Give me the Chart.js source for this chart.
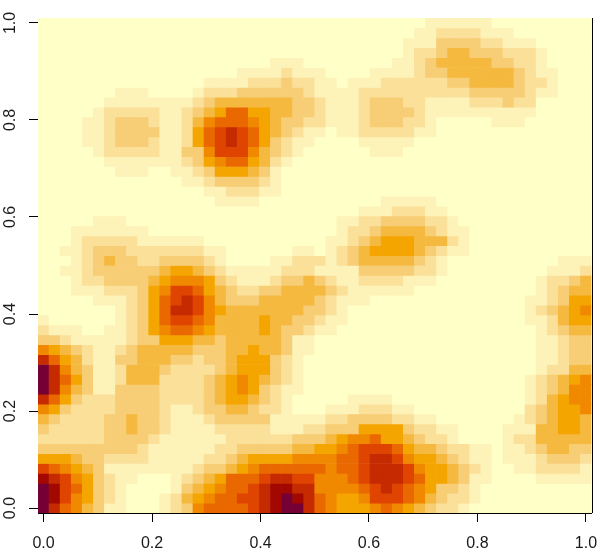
<!DOCTYPE html>
<html>
<head>
<meta charset="utf-8">
<script src="https://cdn.jsdelivr.net/npm/chart.js@4"></script>
<style>
html, body { margin: 0; padding: 0; background: #fff; }
#wrap { width: 602px; height: 552px; }
</style>
</head>
<body>
<div id="wrap"><canvas id="myChart" width="602" height="552"></canvas></div>
<script>
const xTicks = [0, 0.2, 0.4, 0.6, 0.8, 1];
const yTicks = [0, 0.2, 0.4, 0.6, 0.8, 1];

// colour of each z level, lightest to darkest
const levelColors = ["#FFFFC8", "#FDF2B8", "#FBE09A", "#F7CD76", "#F5B93F", "#F5A500",
                     "#F18900", "#EA6800", "#DF4400", "#C62A00", "#A20800", "#750035"];

// z level per cell. first row is y = 1, last is y = 0. a = 10, b = 11
const zRows = [
  "00000000000000000000000000000000000111111000000000",
  "00000000000000000000000000000000001122221110000000",
  "00000000000000000000000000000000011133332211100000",
  "00000000000000000000000000000000012234433322210000",
  "00000000000000000000011100000000112344444332210000",
  "00000000000000000011112111000011112334444443211000",
  "00000000000000011112223221101112222223344443221000",
  "00000001110000122233333321111222222222233333211000",
  "00000011111111234444444332111233322111122232200000",
  "00000122222112345775544332111233332111111111100000",
  "00001123332112467776543322111233322100000111000000",
  "00001123333112578987543211011222221100000000000000",
  "00001123332112578987532110000111110000000000000000",
  "00000122222113368886432100000011100000000000000000",
  "00000011111112356775421000000000000000000000000000",
  "00000001110011235554310000000000000000000000000000",
  "00000000000001123333210000000000000000000000000000",
  "00000000000000011222110000000000000000000000000000",
  "00000000000000001111000000000001111100000000000000",
  "00000000000000000000000000000111222110000000000000",
  "00000111000000000000000000011223333221000000000000",
  "00011111110000000000000000012234444321100000000000",
  "00012222211111100000000000112345554442100000000000",
  "00112333222222211000000110123455554321100000000000",
  "00012343322333321000011222123444443210000000000111",
  "00112333333455432111112221111333332210000000001112",
  "00012233334566653211123343211222211100000000012234",
  "00011122235688754322334444321111110000000000012344",
  "00000111235789864333444443211100000000000000112355",
  "00000001235799865444444433210000000000000000123456",
  "10000001235788764444544332110000000000000000112455",
  "21110011235677654444543321100000000000000000012344",
  "33211111233555443444443110000000000000000000011233",
  "65432112344444333445443110000000000000000000011233",
  "97542113344433233455532100000000000000000000011233",
  "b9643112444322223455532100000000000000000000012244",
  "b9753112444222234565432100000000000000000000123456",
  "b9643113333222234565321100000000000000000000123466",
  "97532223333222234554321000001111000000000000124566",
  "65322223333211233443221000111222110000000000234556",
  "43222233433211123333311111223333221100000001234554",
  "32222233433211112222211122333555532211000011144554",
  "22222233332111111222222333456675543221000012244444",
  "33333333321111112233333445567888754432211011234433",
  "55543322221111122345555666677899865543211011123332",
  "87654311111111233456777777677899986554321001122221",
  "a9865321100012345777899886667899987554311000011111",
  "ba8753210000134567789aa996666789876533210000000000",
  "ba8653210001245677889aba97655688876432210000000000",
  "b97643110001236777789abb97655567654322100000000000"
];

const nCol = 50, nRow = 50;
const halfW = 1 / (nCol - 1) / 2, halfH = 1 / (nRow - 1) / 2;

const datasets = zRows.map(function (row, j) {
  const yMid = 1 - j / (nRow - 1);
  const levels = row.split("").map(function (c) { return parseInt(c, 16); });
  return {
    data: levels.map(function (lv, i) {
      return { x: i / (nCol - 1), y: [yMid - halfH, yMid + halfH] };
    }),
    backgroundColor: levels.map(function (lv) { return levelColors[lv]; }),
    borderWidth: 0,
    barPercentage: 1,
    categoryPercentage: 1,
    grouped: false
  };
});

// box edge on the right side, the image covers the other side
const rightEdge = {
  id: "rightEdge",
  afterDraw(chart) {
    const a = chart.chartArea, c = chart.ctx;
    c.save();
    c.strokeStyle = "#000";
    c.lineWidth = 1;
    c.beginPath();
    c.moveTo(Math.round(a.right) + 0.5, a.top);
    c.lineTo(Math.round(a.right) + 0.5, a.bottom);
    c.stroke();
    c.restore();
  }
};

const ctx = document.getElementById("myChart");

new Chart(ctx, {
  type: "bar",
  data: { datasets: datasets },
  plugins: [rightEdge],
  options: {
    responsive: false,
    animation: false,
    events: [],
    layout: { padding: { left: 0, top: 18, right: 10.5, bottom: 0 } },
    plugins: { legend: { display: false }, tooltip: { enabled: false } },
    scales: {
      x: {
        type: "linear",
        offset: false,
        min: -halfW,
        max: 1 + halfW,
        afterBuildTicks(s) { s.ticks = xTicks.map(function (v) { return { value: v }; }); },
        afterFit(s) { s.height = 39; s.paddingLeft = 0; s.paddingRight = 0; },
        grid: { offset: false, drawOnChartArea: false, drawTicks: true, tickLength: 9, color: "#000", tickColor: "#000" },
        border: { display: true, color: "#000", width: 1 },
        ticks: {
          color: "#1a1a1a",
          font: { family: "Liberation Sans", size: 16 },
          padding: 12,
          autoSkip: false,
          maxRotation: 0,
          callback(v) { return v.toFixed(1); }
        }
      },
      y: {
        type: "linear",
        min: -halfH,
        max: 1 + halfH,
        afterBuildTicks(s) { s.ticks = yTicks.map(function (v) { return { value: v }; }); },
        afterFit(s) { s.width = 38; s.paddingTop = 0; s.paddingBottom = 0; },
        grid: { drawOnChartArea: false, drawTicks: true, tickLength: 9, color: "#000", tickColor: "#000" },
        border: { display: false },
        ticks: {
          color: "#1a1a1a",
          font: { family: "Liberation Sans", size: 16 },
          padding: 7,
          autoSkip: false,
          minRotation: 90,
          maxRotation: 90,
          crossAlign: "center",
          callback(v) { return v.toFixed(1); }
        }
      }
    }
  }
});
</script>
</body>
</html>
